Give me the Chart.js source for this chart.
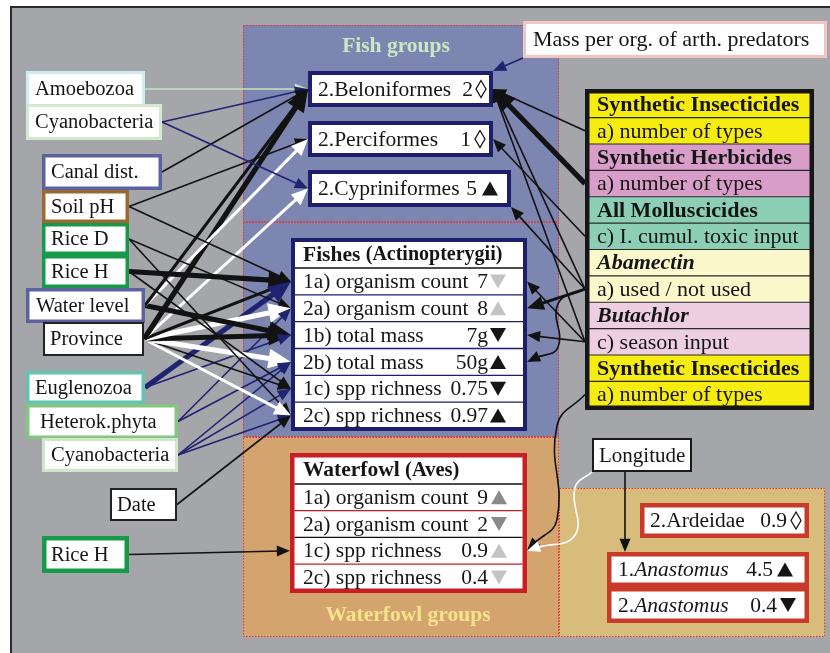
<!DOCTYPE html>
<html><head><meta charset="utf-8">
<script src="https://cdn.jsdelivr.net/npm/chart.js@4.4.1/dist/chart.umd.min.js"></script>
<style>html,body{margin:0;padding:0;background:#fff;overflow:hidden}canvas{display:block}</style>
</head><body>
<canvas id="c" width="830" height="653"></canvas>
<script>
// ================= DATA =================
const predictorLabels = ['Amoebozoa','Cyanobacteria','Canal dist.','Soil pH','Rice D','Rice H','Water level','Province','Euglenozoa','Heterok.phyta','Cyanobacteria','Date','Rice H'];
const fishGroupNames = ['2.Beloniformes','2.Perciformes','2.Cypriniformes'];
const fishGroupValues = ['2','1','5'];
const fishGroupTrends = ['lozenge','lozenge','up'];
const fishHeader = ['Fishes ','(Actinopterygii)'];
const fishMeasures = ['1a) organism count','2a) organism count','1b) total mass','2b) total mass','1c) spp richness','2c) spp richness'];
const fishValues = ['7','8','7g','50g','0.75','0.97'];
const fishTrends = ['down-light','up-light','down','up','down','up'];
const birdHeader = ['Waterfowl ','(Aves)'];
const birdMeasures = ['1a) organism count','2a) organism count','1c) spp richness','2c) spp richness'];
const birdValues = ['9','2','0.9','0.4'];
const birdTrends = ['up-mid','down-mid','up-light','down-light'];
const birdGroupPrefix = ['2.','1.','2.'];
const birdGroupNames = ['Ardeidae','Anastomus','Anastomus'];
const birdGroupValues = ['0.9','4.5','0.4'];
const birdGroupTrends = ['lozenge','up','down'];
const pesticideNames = ['Synthetic Insecticides','Synthetic Herbicides','All Molluscicides','Abamectin','Butachlor','Synthetic Insecticides'];
const pesticideMeasures = ['a) number of types','a) number of types','c) I. cumul. toxic input','a) used / not used','c) season input','a) number of types'];
const otherFactors = ['Mass per org. of arth. predators','Longitude'];
const regionTitles = ['Fish groups','Waterfowl groups'];

// paths: source node, target node, sign, strength (1 weak .. 3 strong)
const edgeFrom = ['L0','L1','L1','L2','L3','L3','L4','L4','L5','L5','L6','L6','L6','L7','L7','L7','L7','L7','L7','L7','L7','L8','L8','L9','L9','L10','L10','L10','L11','L12','M','S0','S1','S2','S3','S3','S3','S3','S4','S4','S4','S5','LON','LON'];
const edgeTo   = ['G0','G0','G2','G0','G1','F0','F1','F5','F0','F4','G0','G1','F2','G0','G2','F0','F1','F2','F3','F4','F5','F0','F2','F1','F3','F3','F4','F5','F5','W2','G0','G0','G0','G1','G0','G2','F1','F3','G0','F0','F2','W2','W2','B1'];
const edgeSign = ['amoeba','algae','algae','neg','neg','neg','neg','neg','neg','neg','neg','pos','neg','neg','pos','neg','pos','neg','pos','neg','pos','algae','algae','algae','algae','algae','algae','algae','neg','neg','algae','neg','neg','neg','neg','neg','neg','neg','neg','neg','neg','neg','pos','neg'];
const edgeStrength = [1,1,1,1,1,1,1,1,3,1,2,2,3,3,2,2,3,3,3,1,2,3,1,1,1,1,1,1,1,1,1,1,3,1,1,1,2,1,1,1,1,1,1,1];

// ================= LAYOUT / STYLE =================
const W = 830, H = 653;
const FAM = '"Liberation Serif","Times New Roman",Times,serif';
const fnt = (s, st) => (st ? st + ' ' : '') + s + 'px ' + FAM;
const INK = '#151515';
const SIGN = { neg:'#121212', pos:'#ffffff', algae:'#1f2372', amoeba:'#c4e4bc' };
const WIDTHS = [0, 1.6, 3, 5.2];
const LAYOUT = {
  frame: { x:10, y:6 },
  panel: '#a5a6aa',
  regions: [
    { r:[243,25,559,222], fill:'#7c86b0' },
    { r:[243,222,559,437], fill:'#7c86b0' },
    { r:[243,437,559,637], fill:'#d4a46f' },
    { r:[559,488,825,637], fill:'#d7bc7b' }
  ],
  titles: [ { x:396, y:45, color:'#cbe8c4' }, { x:408, y:614, color:'#f6e38c' } ],
  L: {
    rects: [[26,71,145,107],[26,104,162,140],[42,154,162,190],[42,190,129,223],[42,223,129,255],[42,255,129,288],[26,288,145,323],[43,322,144,356],[26,371,145,404],[26,404,178,439],[42,438,178,472],[110,488,177,521],[42,536,129,573]],
    border: ['#d0ebf2','#d5e9ce','#5c62a0','#9b6a32','#17994a','#17994a','#5c62a0','#222','#63c4b0','#84c584','#cfe6c9','#222','#17994a'],
    bw: [3,3,3.5,3.5,3.5,3.5,3.5,2,3.5,3.5,3,2,4.5],
    textX: [35,35,51,51,51,51,36,50,35,40,51,117,51]
  },
  G: { rects: [[308,71,493,107],[308,121,493,157],[308,170,511,207]], bw:4, color:'#1d1f6d', textX:318, valueRight:[473,471,477], markX:[476,475,482] },
  F: { rect:[291,238,527,431], bw:4, color:'#1d1f6d', headerBottom:268, rows:6, textX:303, valueRight:488, markX:490 },
  W: { rect:[290,453,527,593], bw:4.5, color:'#c81e26', headerBottom:484, rows:4, textX:303, valueRight:488, markX:491 },
  B: { rects: [[640,503,809,538],[607,552,809,587],[607,587,809,623]], bw:4.5, color:'#c93a2a', textX:[650,618,618], valueRight:[787,773,777], markX:[791,777,780], italic:[false,true,true] },
  S: { rect:[585,89,814,410], bw:4.5, color:'#161616', rows:12, textX:597, fills:['#f7ec0f','#d89ec9','#8ccfb6','#fbf8cc','#eecfe2','#f7ec0f'], nameStyle:['bold','bold','bold','bold italic','bold italic','bold'] },
  M: { rect:[523,21,827,58], bw:3, color:'#f4c4c4', textX:533, size:22 },
  LON: { rect:[592,438,692,472], bw:2, color:'#1a1a1a', textX:599, size:21 }
};
const ROUTES = {
  'M>G0': { src:['bl'], tgt:['tr'] },
  'S3>G2': { tgt:['br'] },
  'S3>F3': { elbow:558 },
  'S5>W2': { elbow:557 },
  'LON>W2': { src:['bl'], elbow:575 },
  'LON>B1': { src:['b',0.33], vertical:true }
};

// ================= GEOMETRY HELPERS =================
function rowRect(box, i) {
  const [x1,y1,x2,y2] = box.rect, h = box.bw/2;
  const top = box.headerBottom || (y1 + h);
  const rh = (y2 - h - top) / box.rows;
  return [x1, top + i*rh, x2, top + (i+1)*rh];
}
function nodeRect(id) {
  const m = id.match(/^([A-Z]+?)(\d*)$/); const k = m[1], i = +m[2];
  if (k === 'L') return LAYOUT.L.rects[i];
  if (k === 'G') return LAYOUT.G.rects[i];
  if (k === 'B') return LAYOUT.B.rects[i];
  if (k === 'F') return rowRect(LAYOUT.F, i);
  if (k === 'W') return rowRect(LAYOUT.W, i);
  if (k === 'S') return rowRect(LAYOUT.S, 2*i+1);
  if (k === 'M') return LAYOUT.M.rect;
  return LAYOUT.LON.rect;
}
function anchor(r, side, frac) {
  const f = frac === undefined ? 0.5 : frac;
  const [x1,y1,x2,y2] = r;
  switch (side) {
    case 'l': return [x1, y1 + (y2-y1)*f];
    case 'r': return [x2, y1 + (y2-y1)*f];
    case 't': return [x1 + (x2-x1)*f, y1];
    case 'b': return [x1 + (x2-x1)*f, y2];
    case 'tr': return [x2, y1];
    case 'br': return [x2, y2];
    case 'bl': return [x1, y2];
  }
}

const datasets = edgeFrom.map((from, i) => {
  const to = edgeTo[i], rt = ROUTES[from + '>' + to] || {};
  const rs = nodeRect(from), rg = nodeRect(to);
  const cs = (rs[0]+rs[2])/2, cg = (rg[0]+rg[2])/2;
  const s = anchor(rs, ...(rt.src || [cs < cg ? 'r' : 'l']));
  let t = anchor(rg, ...(rt.tgt || [cs < cg ? 'l' : 'r']));
  if (rt.vertical) t = [s[0], rg[1]];
  const pts = [s];
  if (rt.elbow !== undefined) {
    const dy = (t[1] - s[1]) * 0.2;
    pts.push([rt.elbow, s[1] + dy], [rt.elbow, t[1] - dy]);
  }
  const lw = WIDTHS[edgeStrength[i]];
  const L = 9 + 2.6*lw, hw = 3.6 + 1.2*lw;
  const prev = pts[pts.length-1];
  const d = Math.hypot(t[0]-prev[0], t[1]-prev[1]);
  const ux = (t[0]-prev[0])/d, uy = (t[1]-prev[1])/d;
  pts.push([t[0] - ux*L*0.7, t[1] - uy*L*0.7]);
  return {
    data: pts.map(p => ({ x:p[0], y:p[1] })),
    borderColor: SIGN[edgeSign[i]], backgroundColor: SIGN[edgeSign[i]],
    borderWidth: lw, pointRadius: 0, borderCapStyle: 'butt',
    tension: rt.elbow !== undefined ? 0.45 : 0, fill: false,
    arrowTip: { x:t[0], y:t[1] }, arrowLen: L, arrowHalf: hw
  };
});

// ================= DRAWING HELPERS =================
function runs(ctx, list, x, y, align) {
  let total = 0;
  list.forEach(r => { ctx.font = r.f; total += ctx.measureText(r.t).width; });
  let cx = align === 'right' ? x - total : (align === 'center' ? x - total/2 : x);
  ctx.textBaseline = 'middle'; ctx.textAlign = 'left';
  list.forEach(r => { ctx.font = r.f; ctx.fillStyle = r.c || INK; ctx.fillText(r.t, cx, y + 1); cx += ctx.measureText(r.t).width; });
}
function mark(ctx, kind, x, y) {
  if (kind === 'lozenge') {
    ctx.beginPath(); ctx.moveTo(x+5, y-8.5); ctx.lineTo(x+10, y); ctx.lineTo(x+5, y+8.5); ctx.lineTo(x, y); ctx.closePath();
    ctx.lineWidth = 1.3; ctx.strokeStyle = INK; ctx.stroke(); return;
  }
  const [dir, shade] = kind.split('-');
  ctx.fillStyle = shade === 'light' ? '#c4c4c4' : shade === 'mid' ? '#8a8a8a' : INK;
  const w = 16, h = 14;
  ctx.beginPath();
  if (dir === 'up') { ctx.moveTo(x, y+h/2); ctx.lineTo(x+w, y+h/2); ctx.lineTo(x+w/2, y-h/2); }
  else { ctx.moveTo(x, y-h/2); ctx.lineTo(x+w, y-h/2); ctx.lineTo(x+w/2, y+h/2); }
  ctx.closePath(); ctx.fill();
}

const diagram = {
  id: 'diagram',
  beforeDatasetsDraw(chart) {
    const ctx = chart.ctx, sx = chart.scales.x, sy = chart.scales.y;
    const X = v => sx.getPixelForValue(v), Y = v => sy.getPixelForValue(v);
    const R = r => [X(r[0]), Y(r[1]), X(r[2]) - X(r[0]), Y(r[3]) - Y(r[1])];
    ctx.save();
    ctx.fillStyle = '#ffffff'; ctx.fillRect(0, 0, chart.width, chart.height);
    const fr = LAYOUT.frame;
    ctx.fillStyle = LAYOUT.panel; ctx.fillRect(...R([fr.x, fr.y, W, H]));
    ctx.strokeStyle = '#2b2b2b'; ctx.lineWidth = 2;
    ctx.beginPath(); ctx.moveTo(X(fr.x+1), Y(H)); ctx.lineTo(X(fr.x+1), Y(fr.y+1)); ctx.lineTo(X(W), Y(fr.y+1)); ctx.stroke();
    LAYOUT.regions.forEach(g => { ctx.fillStyle = g.fill; ctx.fillRect(...R(g.r)); });
    ctx.setLineDash([1.5, 1.5]); ctx.strokeStyle = '#e8323a'; ctx.lineWidth = 1;
    LAYOUT.regions.forEach(g => { const q = R(g.r); ctx.strokeRect(q[0]+0.5, q[1]+0.5, q[2]-1, q[3]-1); });
    ctx.setLineDash([]);
    LAYOUT.titles.forEach((t, i) => runs(ctx, [{ t: regionTitles[i], f: fnt(21.5, 'bold'), c: t.color }], X(t.x), Y(t.y), 'center'));
    ctx.restore();
  },
  afterDatasetsDraw(chart) {
    const ctx = chart.ctx, sx = chart.scales.x, sy = chart.scales.y;
    const X = v => sx.getPixelForValue(v), Y = v => sy.getPixelForValue(v);
    const R = r => [X(r[0]), Y(r[1]), X(r[2]) - X(r[0]), Y(r[3]) - Y(r[1])];
    const box = (r, bw, color, fill) => {
      const q = R(r);
      ctx.fillStyle = fill || '#fff'; ctx.fillRect(...q);
      ctx.lineWidth = bw; ctx.strokeStyle = color;
      ctx.strokeRect(q[0]+bw/2, q[1]+bw/2, q[2]-bw, q[3]-bw);
    };
    const cy = r => Y((r[1]+r[3])/2);
    ctx.save();
    // predictors on the left
    const Lf = LAYOUT.L;
    predictorLabels.forEach((lab, i) => {
      box(Lf.rects[i], Lf.bw[i], Lf.border[i]);
      runs(ctx, [{ t: lab, f: fnt(20.5) }], X(Lf.textX[i]), cy(Lf.rects[i]));
    });
    // fish groups
    const G = LAYOUT.G;
    fishGroupNames.forEach((n, i) => {
      const r = G.rects[i];
      box(r, G.bw, G.color);
      runs(ctx, [{ t: n, f: fnt(21.5) }], X(G.textX), cy(r));
      runs(ctx, [{ t: fishGroupValues[i], f: fnt(21.5) }], X(G.valueRight[i]), cy(r), 'right');
      mark(ctx, fishGroupTrends[i], X(G.markX[i]), cy(r));
    });
    // fishes table
    const F = LAYOUT.F;
    box(F.rect, F.bw, F.color);
    runs(ctx, [{ t: fishHeader[0], f: fnt(21.5, 'bold') }, { t: fishHeader[1], f: fnt(20, 'bold') }], X(F.textX), Y((F.rect[1] + F.bw/2 + F.headerBottom)/2));
    fishMeasures.forEach((m, i) => {
      const r = rowRect(F, i);
      ctx.strokeStyle = i === 0 ? '#111' : F.color; ctx.lineWidth = 1.3;
      ctx.beginPath(); ctx.moveTo(X(r[0]+F.bw), Y(r[1])); ctx.lineTo(X(r[2]-F.bw), Y(r[1])); ctx.stroke();
      runs(ctx, [{ t: m, f: fnt(21.5) }], X(F.textX), cy(r));
      runs(ctx, [{ t: fishValues[i], f: fnt(21.5) }], X(F.valueRight), cy(r), 'right');
      mark(ctx, fishTrends[i], X(F.markX), cy(r));
    });
    // waterfowl table
    const Wb = LAYOUT.W;
    box(Wb.rect, Wb.bw, Wb.color);
    runs(ctx, [{ t: birdHeader[0], f: fnt(21.5, 'bold') }, { t: birdHeader[1], f: fnt(20.5, 'bold') }], X(Wb.textX), Y((Wb.rect[1] + Wb.bw/2 + Wb.headerBottom)/2));
    birdMeasures.forEach((m, i) => {
      const r = rowRect(Wb, i);
      ctx.strokeStyle = (i % 2 === 0) ? '#111' : Wb.color; ctx.lineWidth = 1.3;
      ctx.beginPath(); ctx.moveTo(X(r[0]+Wb.bw), Y(r[1])); ctx.lineTo(X(r[2]-Wb.bw), Y(r[1])); ctx.stroke();
      runs(ctx, [{ t: m, f: fnt(21.5) }], X(Wb.textX), cy(r));
      runs(ctx, [{ t: birdValues[i], f: fnt(21.5) }], X(Wb.valueRight), cy(r), 'right');
      mark(ctx, birdTrends[i], X(Wb.markX), cy(r));
    });
    // pesticide stack
    const S = LAYOUT.S;
    for (let k = 0; k < S.rows; k++) {
      const r = rowRect(S, k), g = Math.floor(k/2);
      ctx.fillStyle = S.fills[g]; ctx.fillRect(...R([r[0], r[1], r[2], r[3]]));
      if (k > 0) { ctx.strokeStyle = '#2a2a2a'; ctx.lineWidth = 1.2; ctx.beginPath(); ctx.moveTo(X(r[0]), Y(r[1])); ctx.lineTo(X(r[2]), Y(r[1])); ctx.stroke(); }
      const txt = k % 2 === 0 ? pesticideNames[g] : pesticideMeasures[g];
      runs(ctx, [{ t: txt, f: fnt(22, k % 2 === 0 ? S.nameStyle[g] : '') }], X(S.textX), cy(r));
    }
    { const q = R(S.rect), bw = S.bw; ctx.lineWidth = bw; ctx.strokeStyle = S.color; ctx.strokeRect(q[0]+bw/2, q[1]+bw/2, q[2]-bw, q[3]-bw); }
    // other factor boxes
    [LAYOUT.M, LAYOUT.LON].forEach((b, i) => {
      box(b.rect, b.bw, b.color);
      runs(ctx, [{ t: otherFactors[i], f: fnt(b.size) }], X(b.textX), cy(b.rect));
    });
    // waterfowl groups
    const B = LAYOUT.B;
    birdGroupNames.forEach((n, i) => {
      const r = B.rects[i];
      box(r, B.bw, B.color);
      runs(ctx, [{ t: birdGroupPrefix[i], f: fnt(21.5) }, { t: n, f: fnt(21.5, B.italic[i] ? 'italic' : '') }], X(B.textX[i]), cy(r));
      runs(ctx, [{ t: birdGroupValues[i], f: fnt(21.5) }], X(B.valueRight[i]), cy(r), 'right');
      mark(ctx, birdGroupTrends[i], X(B.markX[i]), cy(r));
    });
    // arrowheads
    chart.data.datasets.forEach((ds, i) => {
      const meta = chart.getDatasetMeta(i);
      const last = meta.data[meta.data.length - 1];
      const tx = X(ds.arrowTip.x), ty = Y(ds.arrowTip.y);
      const a = Math.atan2(ty - last.y, tx - last.x);
      const L = ds.arrowLen, h = ds.arrowHalf;
      const bx = tx - Math.cos(a)*L, by = ty - Math.sin(a)*L;
      ctx.fillStyle = ds.borderColor;
      ctx.beginPath(); ctx.moveTo(tx, ty);
      ctx.lineTo(bx - Math.sin(a)*h, by + Math.cos(a)*h);
      ctx.lineTo(bx + Math.sin(a)*h, by - Math.cos(a)*h);
      ctx.closePath(); ctx.fill();
    });
    ctx.restore();
  }
};

new Chart(document.getElementById('c'), {
  type: 'line',
  data: { datasets },
  options: {
    responsive: false, animation: false, devicePixelRatio: 1, events: [],
    layout: { padding: 0 },
    plugins: { legend: { display: false }, tooltip: { enabled: false }, title: { display: false } },
    scales: {
      x: { type: 'linear', min: 0, max: W, display: false },
      y: { type: 'linear', min: 0, max: H, reverse: true, display: false }
    }
  },
  plugins: [diagram]
});
</script>
</body></html>
